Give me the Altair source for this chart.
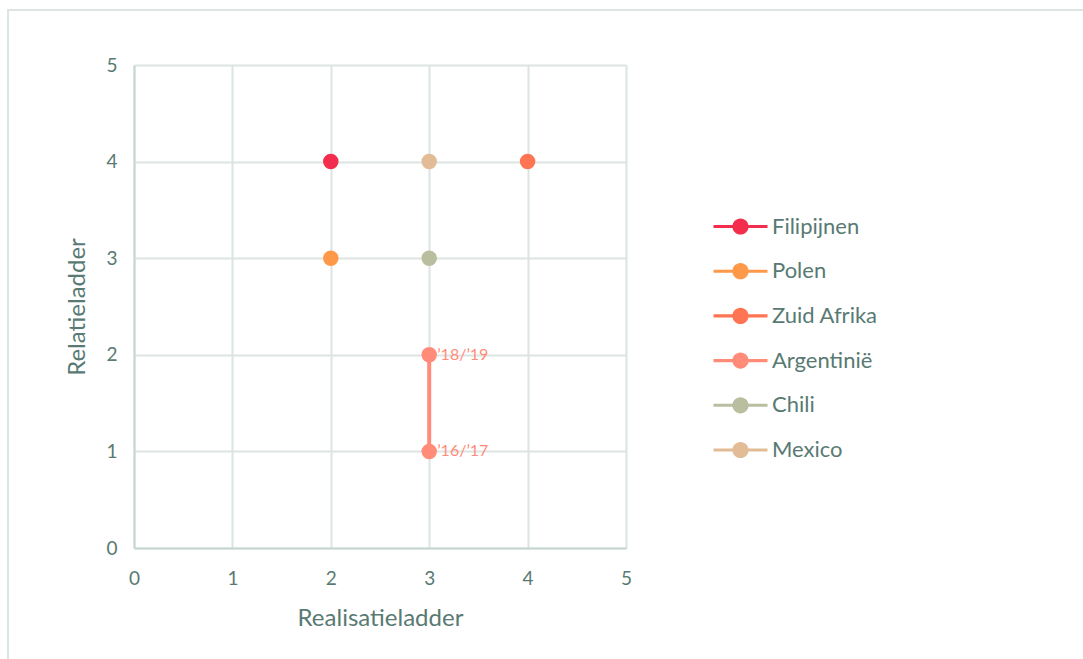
import altair as alt
import pandas as pd

# Countries and their scores on both ladders
countries = ["Filipijnen", "Polen", "Zuid Afrika", "Argentinië", "Chili", "Mexico"]
colors = ["#F22E4C", "#FF994A", "#FF7452", "#FF8B78", "#B9BE9E", "#E2BC96"]

# One row per observation; Argentinië has two periods
obs_country = ["Filipijnen", "Polen", "Zuid Afrika", "Argentinië", "Argentinië", "Chili", "Mexico"]
obs_real = [2, 2, 4, 3, 3, 3, 3]
obs_rel = [4, 3, 4, 1, 2, 3, 4]
obs_label = ["", "", "", "’16/’17", "’18/’19", "", ""]

df = pd.DataFrame({
    "land": obs_country,
    "Realisatieladder": obs_real,
    "Relatieladder": obs_rel,
    "periode": obs_label,
})

TEXT = "#587A72"
GRID = "#DCE5E2"
AXIS = "#C7D6D1"
FONT = "Lato"

color_scale = alt.Scale(domain=countries, range=colors)

# legend symbol: short line with a dot in the middle
legend_symbol = (
    "M-1.2,-0.07 L-0.3,-0.07 L-0.3,0.07 L-1.2,0.07 Z "
    "M0.3,-0.07 L1.2,-0.07 L1.2,0.07 L0.3,0.07 Z "
    "M0.36,0 A0.36,0.36 0 1,1 -0.36,0 A0.36,0.36 0 1,1 0.36,0 Z"
)

legend = alt.Legend(
    title=None, orient="none", legendX=584, legendY=139,
    symbolType=legend_symbol, symbolSize=2025, symbolOpacity=1,
    symbolStrokeWidth=0, rowPadding=10.7, labelFontSize=22,
    labelColor=TEXT, labelFont=FONT, labelOffset=9,
)
color_enc = alt.Color("land:N", scale=color_scale, sort=countries, legend=legend)

x_enc = alt.X(
    "Realisatieladder:Q",
    scale=alt.Scale(domain=[0, 5], nice=False),
    axis=alt.Axis(values=[0, 1, 2, 3, 4, 5], title="Realisatieladder",
                  labelPadding=21, titlePadding=18),
)
y_enc = alt.Y(
    "Relatieladder:Q",
    scale=alt.Scale(domain=[0, 5], nice=False),
    axis=alt.Axis(values=[0, 1, 2, 3, 4, 5], title="Relatieladder",
                  labelPadding=17, titlePadding=16),
)

base = alt.Chart(df)

# outer frame around the figure
frame = alt.Chart(pd.DataFrame({"k": [0]})).mark_rect(
    fill=None, stroke=GRID, strokeWidth=2
).encode(
    x=alt.value(-126), x2=alt.value(1000), y=alt.value(-55), y2=alt.value(700)
)

lines = base.mark_line(strokeWidth=4).encode(
    x=x_enc, y=y_enc, color=color_enc, detail="land:N",
)

points = base.mark_circle(size=240, opacity=1).encode(
    x=x_enc, y=y_enc, color=color_enc,
)

labels = base.transform_filter(alt.datum.periode != "").mark_text(
    align="left", baseline="middle", dx=8, fontSize=16, font=FONT, color="#FF8B78"
).encode(x=x_enc, y=y_enc, text="periode:N")

chart = alt.layer(frame, lines, points, labels).properties(
    width=492, height=483,
    autosize=alt.AutoSizeParams(type="none"),
    padding={"left": 134, "top": 65, "right": 457, "bottom": 111},
).configure_view(stroke=None).configure_axis(
    grid=True, gridColor=GRID, gridWidth=2,
    domain=False, ticks=False, labelFlush=False,
    labelFont=FONT, labelFontSize=19, labelColor=TEXT,
    titleFont=FONT, titleFontSize=24, titleColor=TEXT, titleFontWeight="normal",
).configure_axisX(domain=True, domainColor=AXIS, domainWidth=2).configure_axisY(
    domain=True, domainColor=AXIS, domainWidth=2
)

chart.save("out.html", embed_options={"renderer": "svg", "actions": False})
